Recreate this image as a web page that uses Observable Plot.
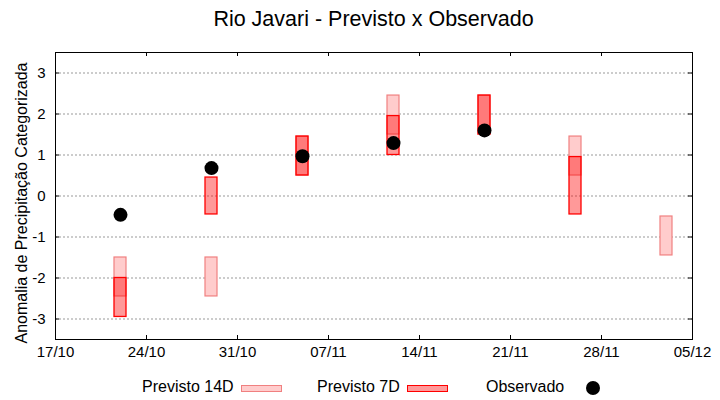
<!DOCTYPE html>
<html><head><meta charset="utf-8">
<script src="https://cdn.jsdelivr.net/npm/d3@7"></script>
<script src="https://cdn.jsdelivr.net/npm/@observablehq/plot@0.6"></script>
<style>
body{margin:0;background:#fff;font-family:"Liberation Sans",Arial,sans-serif;}
#wrap{position:relative;width:720px;height:400px;overflow:hidden;background:#fff;}
.t{position:absolute;white-space:nowrap;color:#000;}
#title{left:55px;width:637px;top:8.5px;text-align:center;font-size:21.5px;line-height:21.5px;}
.leg{font-size:16px;line-height:16px;top:378.7px;}
.sw{position:absolute;box-sizing:border-box;}
#chart{position:absolute;left:0;top:40px;}
</style></head><body>
<div id="wrap">
  <div id="title" class="t">Rio Javari - Previsto x Observado</div>
  <div id="chart"></div>
  <div class="t leg" style="left:142px">Previsto 14D</div>
  <div class="sw" style="left:241px;top:384.5px;width:41px;height:7px;background:#ffcccc;border:1px solid #f08080"></div>
  <div class="t leg" style="left:317px">Previsto 7D</div>
  <div class="sw" style="left:407px;top:384.5px;width:41px;height:7px;background:#ff9999;border:1px solid #ff0000"></div>
  <div class="t leg" style="left:486px">Observado</div>
  <div class="sw" style="left:586.3px;top:381.3px;width:14px;height:14px;border-radius:50%;background:#000"></div>
</div>
<script>
// ---- data ----
const dates = ["2023-10-22","2023-10-29","2023-11-05","2023-11-12","2023-11-19","2023-11-26","2023-12-03"];
const prev14Low  = [-2.45, -2.45, 0.50, 1.50, 1.50, 0.50, -1.45];
const prev14High = [-1.50, -1.50, 1.45, 2.45, 2.45, 1.45, -0.50];
const prev7Low   = [-2.95, -0.45, 0.50, 1.00, 1.50, -0.45, null];
const prev7High  = [-2.00,  0.45, 1.45, 1.95, 2.45,  0.95, null];
const observed   = [-0.46,  0.68, 0.97, 1.29, 1.60, null, null];
const xTickDates = ["2023-10-17","2023-10-24","2023-10-31","2023-11-07","2023-11-14","2023-11-21","2023-11-28","2023-12-05"];
const yTicks = [-3, -2, -1, 0, 1, 2, 3];
const yLabel = "Anomalia de Precipitação Categorizada";

const parse = d3.utcParse("%Y-%m-%d");
const rows14 = dates.map((d,i)=>({date: parse(d), lo: prev14Low[i], hi: prev14High[i]})).filter(r=>r.lo!=null);
const rows7 = dates.map((d,i)=>({date: parse(d), lo: prev7Low[i], hi: prev7High[i]})).filter(r=>r.lo!=null);
const rowsObs = dates.map((d,i)=>({date: parse(d), v: observed[i]})).filter(r=>r.v!=null);
const xt = xTickDates.map(parse);

const W=720, H=330, mt=12, mr=28, mb=31, ml=55;
const innerW = W-ml-mr, innerH = H-mt-mb, tk = 4;

const chart = Plot.plot({
  width: W, height: H, marginTop: mt, marginRight: mr, marginBottom: mb, marginLeft: ml,
  style: {fontFamily: "Liberation Sans, Arial, sans-serif", fontSize: "15px", color: "#000", background: "#fff", overflow: "visible"},
  x: {type: "utc", domain: [xt[0], xt[xt.length-1]]},
  y: {domain: [-3.5, 3.5]},
  marks: [
    Plot.gridY(yTicks, {stroke: "#999", strokeOpacity: 1, strokeDasharray: "2,2"}),
    Plot.rect(rows14, {x1: "date", x2: "date", y1: "lo", y2: "hi", insetLeft: -6, insetRight: -6, fill: "#ffcccc", stroke: "#f08080", strokeWidth: 1.2}),
    Plot.rect(rows7, {x1: "date", x2: "date", y1: "lo", y2: "hi", insetLeft: -6, insetRight: -6, fill: "red", fillOpacity: 0.4, stroke: "red", strokeWidth: 1.3}),
    Plot.dot(rowsObs, {x: "date", y: "v", r: 7, fill: "black", stroke: "none"}),
    Plot.tickY(yTicks, {y: d=>d, insetRight: innerW - tk, stroke: "black"}),
    Plot.tickY(yTicks, {y: d=>d, insetLeft: innerW - tk, stroke: "black"}),
    Plot.tickX(xt, {x: d=>d, insetTop: innerH - tk, stroke: "black"}),
    Plot.tickX(xt, {x: d=>d, insetBottom: innerH - tk, stroke: "black"}),
    Plot.frame({stroke: "black"}),
    Plot.axisY(yTicks, {tickSize: 0, tickPadding: 10, tickFormat: d=>String(d), label: null}),
    Plot.axisX(xt, {tickSize: 0, tickPadding: 7, tickFormat: d3.utcFormat("%d/%m"), label: null}),
    Plot.text([yLabel], {frameAnchor: "left", dx: -33.4, dy: 7, rotate: -90, fontSize: 16, textAnchor: "middle", lineAnchor: "middle", fill: "black"})
  ]
});
document.getElementById("chart").appendChild(chart);
</script>
</body></html>
